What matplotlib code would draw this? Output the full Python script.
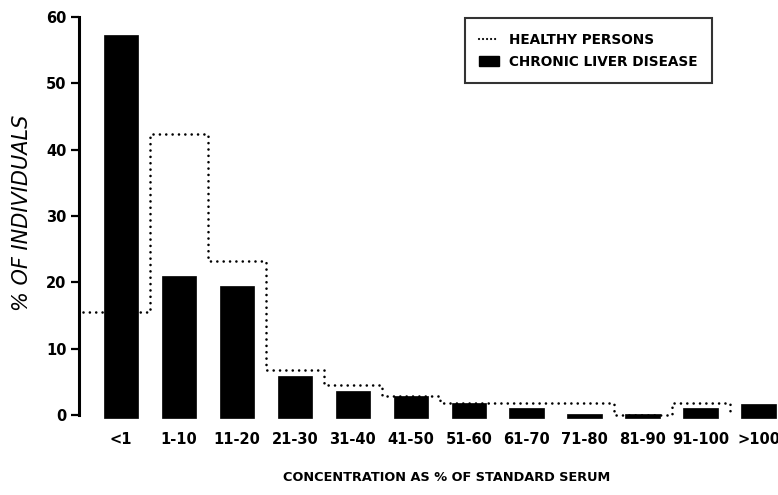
import matplotlib
matplotlib.use("Agg")
import matplotlib.pyplot as plt
import numpy as np
from matplotlib.lines import Line2D
from matplotlib.patches import Patch

# concentration classes (% of standard serum)
categories = ["<1", "1-10", "11-20", "21-30", "31-40", "41-50",
              "51-60", "61-70", "71-80", "81-90", "91-100", ">100"]
# % of individuals with chronic liver disease (bars)
liver_disease = [57.3, 20.9, 19.4, 5.9, 3.7, 2.9, 1.8, 1.0, 0.2, 0.2, 1.0, 1.7]
# % of healthy persons (dotted step line), through the 91-100 class
healthy = [15.6, 42.3, 23.2, 6.8, 4.5, 2.8, 1.8, 1.8, 1.8, 0.0, 1.8]

plt.rcParams['font.family'] = ['DejaVu Sans']

DOTS = (0, (0.01, 2.4))

fig = plt.figure(figsize=(7.78, 4.95), dpi=100)
ax = fig.add_axes([0.1015, 0.1414, 0.8985, 0.8243])

x = np.arange(len(categories))
base = -0.5
ax.bar(x, np.array(liver_disease) - base, bottom=base, width=0.6,
       color="black", edgecolor="black", linewidth=0.5, zorder=2)

# healthy persons as a dotted staircase, dropping to zero after 91-100
edges = np.concatenate([[-0.65], np.arange(len(healthy) - 1) + 0.5, [len(healthy) - 0.5]])
steps = list(healthy) + [0.0]
ax.plot(edges, steps, drawstyle="steps-post", color="black", lw=1.9,
        linestyle=DOTS, dash_capstyle="round", zorder=3)

ax.set_xlim(-0.724, 11.33)
ax.set_ylim(-1.5, 60)

for side in ["top", "right", "bottom"]:
    ax.spines[side].set_visible(False)
ax.spines["left"].set_linewidth(2.2)
ax.spines["left"].set_bounds(0, 60)

ax.set_yticks([0, 10, 20, 30, 40, 50, 60])
ax.tick_params(axis="y", length=6, width=1.6, labelsize=10.5, pad=3)
for lab in ax.get_yticklabels():
    lab.set_fontweight("bold")

ax.set_xticks(x)
ax.set_xticklabels(categories, fontsize=10.5, fontweight="bold")
ax.tick_params(axis="x", length=0, pad=5)

fig.text(0.028, 0.57, "% OF INDIVIDUALS", rotation=90, ha="center", va="center",
         fontsize=15, fontstyle="italic")
fig.text(0.5745, 0.036, "CONCENTRATION AS % OF STANDARD SERUM", ha="center", va="center",
         fontsize=9.3, fontweight="bold")

handles = [
    Line2D([0], [0], color="black", lw=1.6, linestyle=(0, (0.01, 1.8)), dash_capstyle="round"),
    Patch(facecolor="black", edgecolor="black"),
]
leg = ax.legend(handles, ["HEALTHY PERSONS", "CHRONIC LIVER DISEASE"],
                loc="upper left", bbox_to_anchor=(0.5496, 1.0), frameon=True,
                fancybox=False, edgecolor="black", handlelength=1.5,
                prop={"weight": "bold", "size": 9.8}, borderpad=1.05,
                labelspacing=0.6, handletextpad=0.7, borderaxespad=0.1)
leg.get_frame().set_linewidth(1.5)

fig.savefig("out.png", dpi=100)
